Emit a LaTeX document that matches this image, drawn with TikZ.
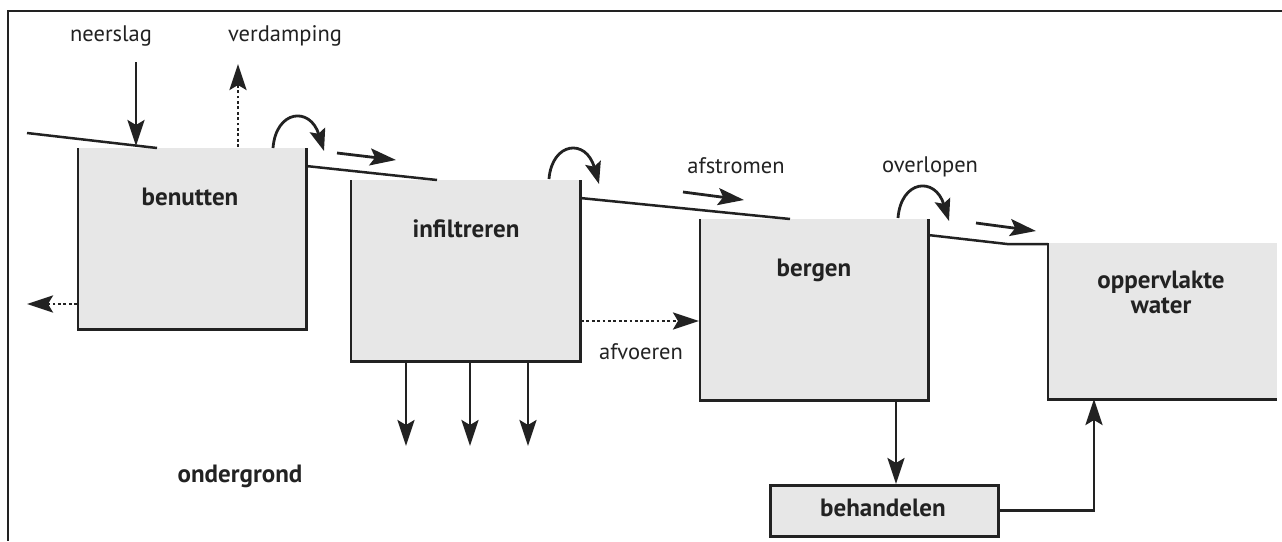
\documentclass[tikz,border=0pt]{standalone}
\usepackage{fontspec}
\setmainfont{PT Sans}
\usetikzlibrary{arrows.meta}
\definecolor{ink}{HTML}{222222}
\definecolor{boxgray}{HTML}{E7E7E7}
\begin{document}
\begin{tikzpicture}[x=1pt,y=-1pt,
  box/.style={fill=boxgray, draw=none, inner sep=0pt, anchor=north west},
  edge/.style={draw=ink, line width=2.5pt},
  lbl/.style={text=ink, font=\fontsize{22.5}{26}\selectfont, inner sep=0pt, anchor=base},
  blbl/.style={text=ink, font=\bfseries\fontsize{25}{29}\selectfont, inner sep=0pt, anchor=base},
  arr/.style={draw=ink, line width=2.8pt, -{Stealth[length=26pt,width=17pt,inset=5pt]}},
  carr/.style={draw=ink, line width=2.8pt, -{Stealth[length=22pt,width=16pt,inset=4pt]}},
  darr/.style={arr, dash pattern=on 2.8pt off 2.6pt}]
\useasboundingbox (0,0) rectangle (1282,541);
% frame
\coordinate (f0) at (8,11);
\coordinate (f1) at (1282,11);
\coordinate (f2) at (8,541);
\draw[draw=ink, line width=1.8pt] (f1) -- (f0) -- (f2);
% boxes
\node[box, minimum width=228pt, minimum height=181pt] (ben) at (78,148) {};
\node[box, minimum width=229pt, minimum height=181pt] (inf) at (351,180) {};
\node[box, minimum width=228pt, minimum height=181pt] (ber) at (700,219) {};
\node[box, minimum width=229pt, minimum height=156pt] (opp) at (1048,243) {};
\node[box, minimum width=228pt, minimum height=51pt, draw=ink, line width=2.5pt] (beh) at (769,484) {};
\draw[edge] (ben.north west) -- (ben.south west) -- (ben.south east) -- (ben.north east);
\draw[edge] (inf.north west) -- (inf.south west) -- (inf.south east) -- (inf.north east);
\draw[edge] (ber.north west) -- (ber.south west) -- (ber.south east) -- (ber.north east);
\draw[edge] (opp.north west) -- (opp.south west) -- (opp.south east);
% ground line
\coordinate (g1) at (27,133);
\coordinate (g2) at (157,148);
\coordinate (g3) at (306,166);
\coordinate (g4) at (437,180);
\coordinate (g5) at (580,198);
\coordinate (g6) at (790,219);
\coordinate (g7) at (928,235);
\coordinate (g8) at (1007,244);
\coordinate (g9) at (1048,244);
\draw[edge] (g1) -- (g2);
\draw[edge] (g3) -- (g4);
\draw[edge] (g5) -- (g6);
\draw[edge] (g7) -- (g8) -- (g9);
% labels
\node[lbl] (tneer) at (111,41) {neerslag};
\node[lbl] (tverd) at (285,41) {verdamping};
\node[lbl] (tafst) at (736,173) {afstromen};
\node[lbl] (tover) at (930,172) {overlopen};
\node[lbl] (tafv) at (641,359) {afvoeren};
\node[blbl] (tben) at (190,205) {benutten};
\node[blbl] (tinf) at (466,237) {infiltreren};
\node[blbl] (tber) at (814,276) {bergen};
\node[blbl] (topp1) at (1161,288) {oppervlakte};
\node[blbl] (topp2) at (1161,313) {water};
\node[blbl] (tond) at (240,482) {ondergrond};
\node[blbl] (tbeh) at (883,516) {behandelen};
% arrows
\coordinate (n0) at (136,62);
\coordinate (n1) at (136,146);
\draw[arr] (n0) -- (n1);
\coordinate (v0) at (238,147);
\coordinate (v1) at (238,64);
\draw[darr] (v0) -- (v1);
\coordinate (c1a) at (273,148);
\coordinate (c1b) at (324,151);
\draw[carr] (c1a) .. controls (276,110) and (310,106) .. (c1b);
\coordinate (c2a) at (549,179);
\coordinate (c2b) at (599,184);
\draw[carr] (c2a) .. controls (552,142) and (586,138) .. (c2b);
\coordinate (c3a) at (898,218);
\coordinate (c3b) at (949,221);
\draw[carr] (c3a) .. controls (901,180) and (935,176) .. (c3b);
\coordinate (s1a) at (337,153);
\coordinate (s1b) at (396,160);
\draw[arr] (s1a) -- (s1b);
\coordinate (s2a) at (683,192);
\coordinate (s2b) at (744,200);
\draw[arr] (s2a) -- (s2b);
\coordinate (s3a) at (976,223);
\coordinate (s3b) at (1036,231);
\draw[arr] (s3a) -- (s3b);
\coordinate (l0) at (77,304);
\coordinate (l1) at (27,304);
\draw[darr] (l0) -- (l1);
\coordinate (a0) at (581,321);
\coordinate (a1) at (699,321);
\draw[darr] (a0) -- (a1);
\foreach \x/\n in {406/d1,470/d2,528/d3}{
  \coordinate (\n a) at (\x,362);
  \coordinate (\n b) at (\x,446);
  \draw[arr] (\n a) -- (\n b);
}
\coordinate (b0) at (896,400);
\draw[arr] (b0) -- (b0 |- beh.north);
\coordinate (o0) at (1094,399);
\draw[arr] (beh.east) -| (o0);
\end{tikzpicture}
\end{document}
